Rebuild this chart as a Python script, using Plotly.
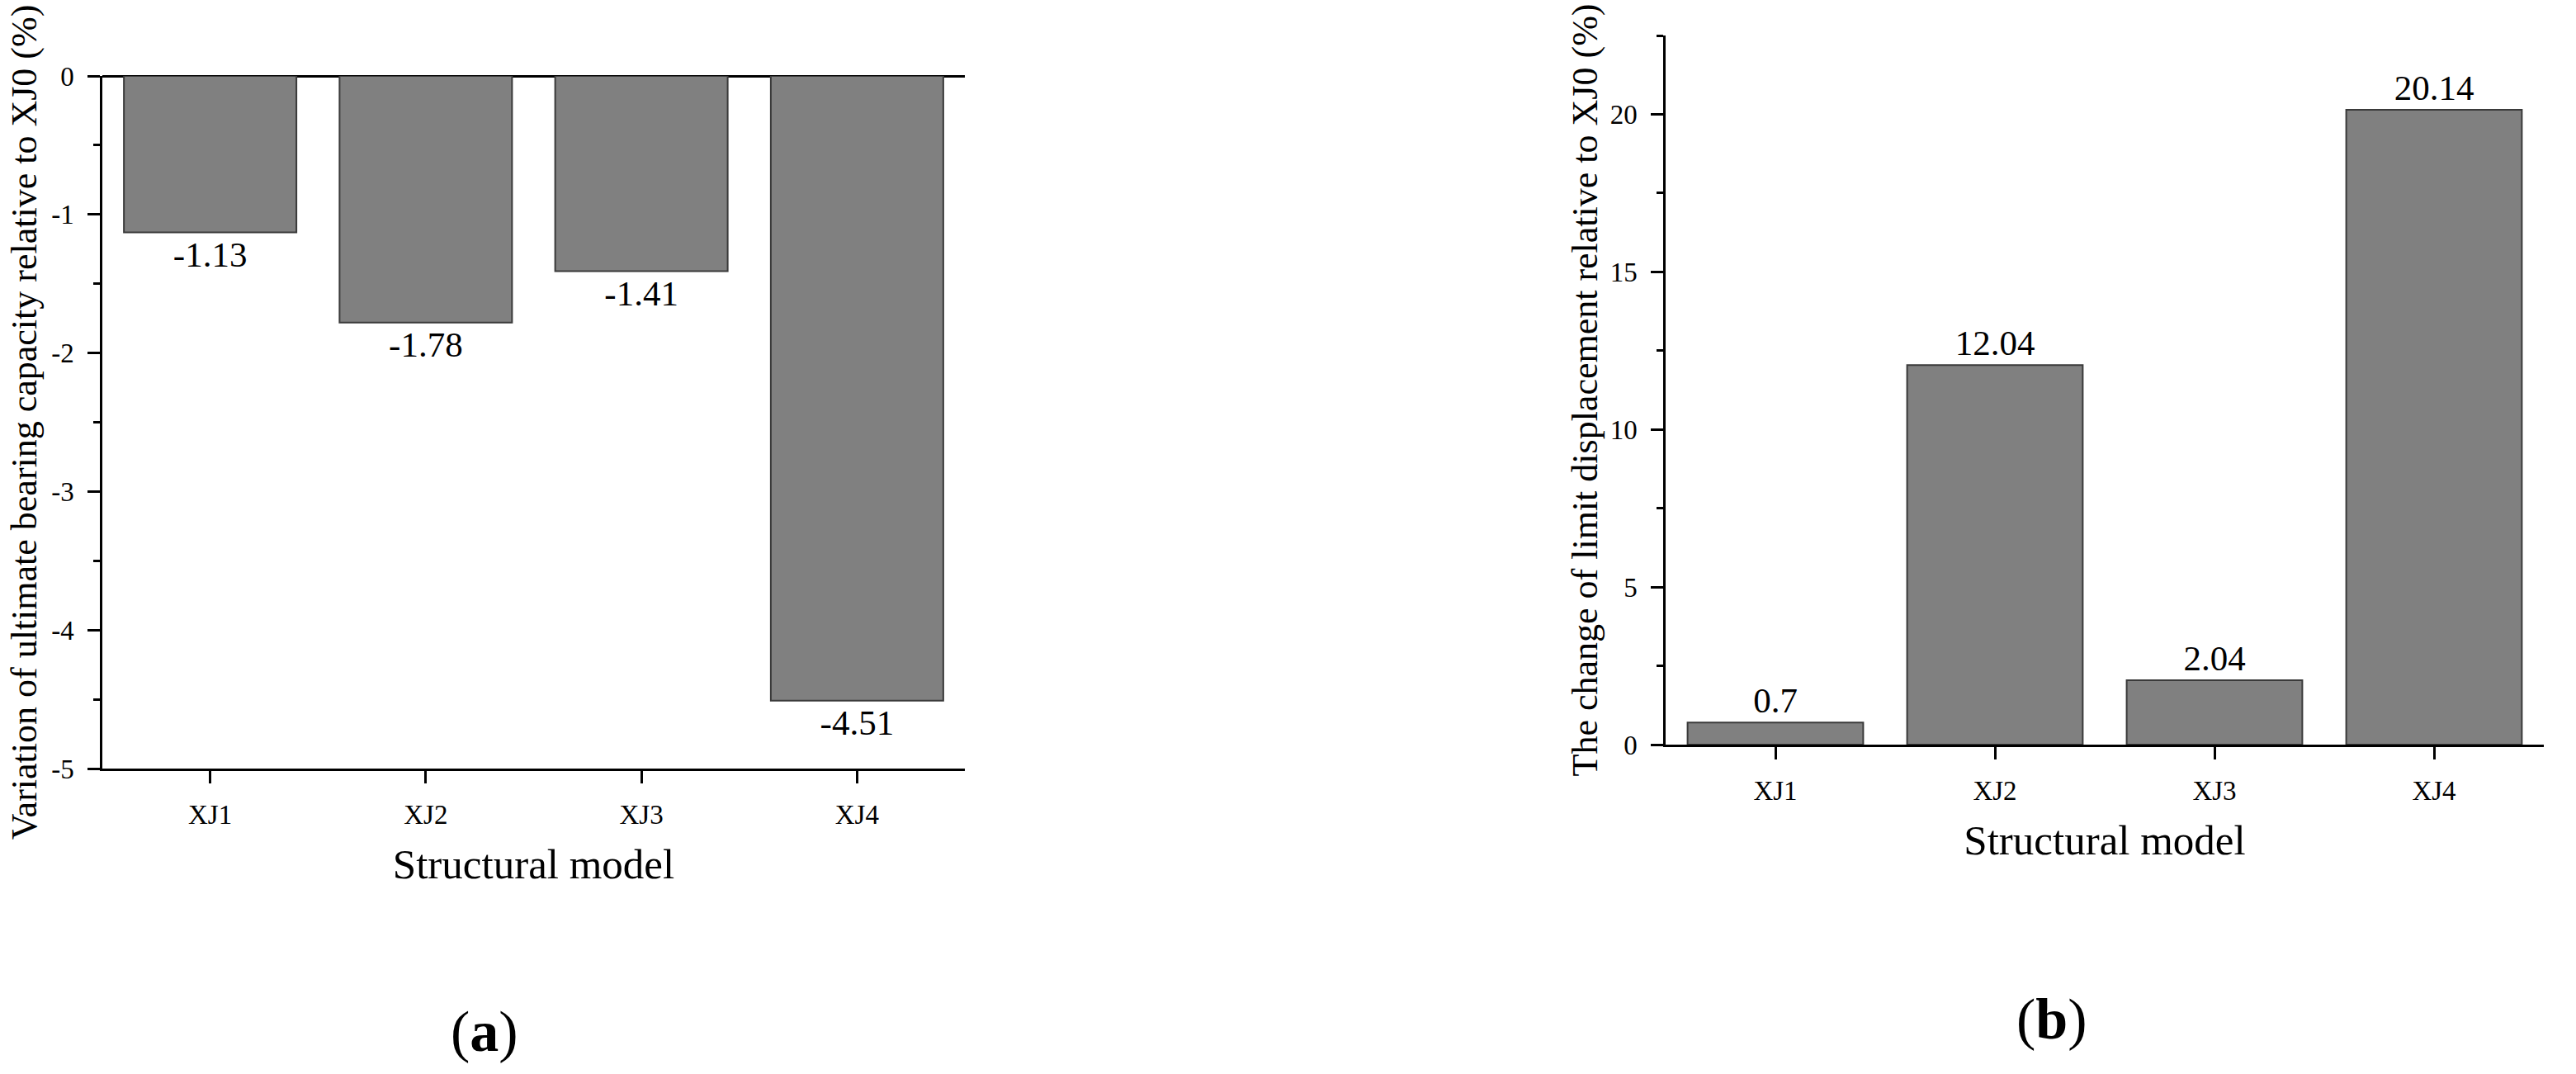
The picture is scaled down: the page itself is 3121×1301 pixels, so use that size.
import plotly.graph_objects as go

# data
models = ["XJ1", "XJ2", "XJ3", "XJ4"]
bearing_change = [-1.13, -1.78, -1.41, -4.51]      # panel (a), %
displacement_change = [0.7, 12.04, 2.04, 20.14]    # panel (b), %

a_ticks = [0, -1, -2, -3, -4, -5]
b_ticks = [0, 5, 10, 15, 20]

W, H = 3121, 1301
FONT = "Times New Roman, Liberation Serif, serif"
BAR = "#808080"
EDGE = "#3a3a3a"

fig = go.Figure()

fig.add_trace(go.Bar(
    x=models, y=bearing_change, xaxis="x", yaxis="y",
    width=0.8, marker=dict(color=BAR, line=dict(color=EDGE, width=2)),
    text=[f"{v:g}" for v in bearing_change], textposition="outside",
    textfont=dict(size=43, color="black", family=FONT),
    constraintext="none", cliponaxis=False, showlegend=False,
))
fig.add_trace(go.Bar(
    x=models, y=displacement_change, xaxis="x2", yaxis="y2",
    width=0.8, marker=dict(color=BAR, line=dict(color=EDGE, width=2)),
    text=[f"{v:g}" for v in displacement_change], textposition="outside",
    textfont=dict(size=43, color="black", family=FONT),
    constraintext="none", cliponaxis=False, showlegend=False,
))

ax_common = dict(
    showline=True, linecolor="black", linewidth=2.5, showgrid=False,
    ticks="outside", ticklen=15, tickwidth=2.5, tickcolor="black",
    tickfont=dict(size=33, color="black", family=FONT), ticklabelstandoff=10,
)

fig.update_layout(
    width=W, height=H,
    margin=dict(l=0, r=0, t=0, b=0, autoexpand=False),
    paper_bgcolor="white", plot_bgcolor="white",
    font=dict(family=FONT, color="black"),
    # panel (a)
    xaxis=dict(
        domain=[124 / W, 1169 / W], anchor="y", range=[-0.5, 3.5],
        zeroline=False,
        title=dict(text="Structural model", font=dict(size=51), standoff=24),
        **ax_common,
    ),
    yaxis=dict(
        domain=[1 - 931 / H, 1 - 92 / H], anchor="x", range=[-5, 0],
        tickvals=a_ticks, ticktext=[str(v) for v in a_ticks],
        minor=dict(dtick=0.5, ticks="outside", ticklen=8, tickwidth=2.5, tickcolor="black"),
        zeroline=True, zerolinecolor="black", zerolinewidth=2.5,
        title=dict(text="Variation of ultimate bearing capacity relative to XJ0 (%)",
                   font=dict(size=44), standoff=4),
        **ax_common,
    ),
    # panel (b)
    xaxis2=dict(
        domain=[2018 / W, 3082 / W], anchor="y2", range=[-0.5, 3.5],
        zeroline=False,
        title=dict(text="Structural model", font=dict(size=51), standoff=24),
        **ax_common,
    ),
    yaxis2=dict(
        domain=[1 - 902 / H, 1 - 43 / H], anchor="x2", range=[0, 22.5],
        tickvals=b_ticks,
        minor=dict(dtick=2.5, ticks="outside", ticklen=8, tickwidth=2.5, tickcolor="black"),
        zeroline=False,
        title=dict(text="The change of limit displacement relative to XJ0 (%)",
                   font=dict(size=44), standoff=2),
        **ax_common,
    ),
    annotations=[
        dict(text="(<b>a</b>)", x=587 / W, y=1 - 1249 / H, xref="paper", yref="paper",
             xanchor="center", yanchor="middle", showarrow=False,
             font=dict(size=70, color="black", family=FONT)),
        dict(text="(<b>b</b>)", x=2486 / W, y=1 - 1234 / H, xref="paper", yref="paper",
             xanchor="center", yanchor="middle", showarrow=False,
             font=dict(size=70, color="black", family=FONT)),
    ],
)

fig.write_html("out.html", config={"displayModeBar": False},
               post_script="document.body.style.margin='0';")
